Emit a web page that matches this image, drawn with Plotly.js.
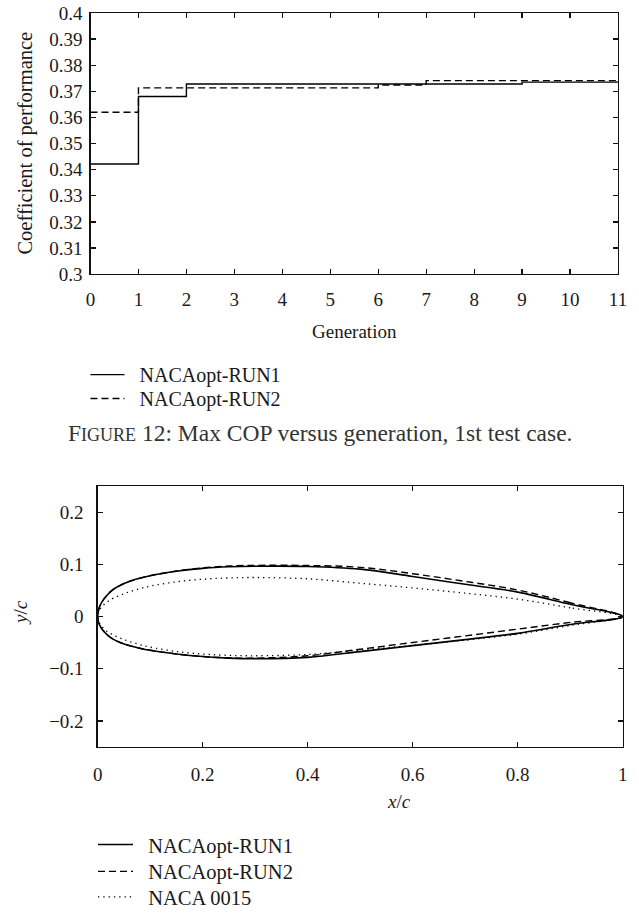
<!DOCTYPE html>
<html>
<head>
<meta charset="utf-8">
<script src="https://cdn.plot.ly/plotly-3.0.1.min.js"></script>
<style>html,body{margin:0;padding:0;background:#fff;}#chart{width:639px;height:917px;}</style>
</head>
<body>
<div id="chart"></div>
<script>
// ---------- Figure 12 data: max COP vs generation ----------
const generation = [0, 1, 2, 3, 4, 5, 6, 7, 8, 9, 10, 11];
const copRun1 = [0.3422, 0.3680, 0.3728, 0.3728, 0.3728, 0.3728, 0.3728, 0.3728, 0.3728, 0.3735, 0.3735, 0.3735];
const copRun2 = [0.3620, 0.3713, 0.3713, 0.3713, 0.3713, 0.3713, 0.3724, 0.3741, 0.3741, 0.3741, 0.3741, 0.3741];
const genTickVals = [0, 1, 2, 3, 4, 5, 6, 7, 8, 9, 10, 11];
const genTickText = ["0", "1", "2", "3", "4", "5", "6", "7", "8", "9", "10", "11"];
const copTickVals = [0.3, 0.31, 0.32, 0.33, 0.34, 0.35, 0.36, 0.37, 0.38, 0.39, 0.4];
const copTickText = ["0.3", "0.31", "0.32", "0.33", "0.34", "0.35", "0.36", "0.37", "0.38", "0.39", "0.4"];

// ---------- Airfoil profiles (x/c, y/c) ----------
// upper surface: trailing edge -> leading edge
const xUpper = [1.0, 0.9, 0.8, 0.7, 0.6, 0.5, 0.4, 0.3, 0.25, 0.2, 0.15, 0.1, 0.08, 0.06, 0.045, 0.03, 0.02, 0.012, 0.006, 0.002, 0];
// lower surface: leading edge -> trailing edge
const xLower = [0, 0.002, 0.006, 0.012, 0.02, 0.03, 0.045, 0.06, 0.08, 0.1, 0.15, 0.2, 0.25, 0.3, 0.4, 0.5, 0.6, 0.7, 0.8, 0.9, 1.0];

const run1Upper = [0, 0.0236, 0.047, 0.062, 0.077, 0.091, 0.0962, 0.0966, 0.0955, 0.0925, 0.087, 0.0785, 0.0735, 0.0675, 0.061, 0.0525, 0.0435, 0.034, 0.0243, 0.014, 0];
const run1Lower = [0, -0.012, -0.0205, -0.0285, -0.0365, -0.0435, -0.0505, -0.0555, -0.0605, -0.0645, -0.0715, -0.0765, -0.0795, -0.0805, -0.078, -0.067, -0.0555, -0.044, -0.032, -0.015, 0];
const run2Upper = [0, 0.0266, 0.051, 0.0675, 0.0823, 0.0945, 0.098, 0.0982, 0.097, 0.0935, 0.0875, 0.0785, 0.0735, 0.0675, 0.061, 0.0525, 0.0435, 0.034, 0.0243, 0.014, 0];
const run2Lower = [0, -0.012, -0.0205, -0.0285, -0.0365, -0.0435, -0.0505, -0.0555, -0.0605, -0.0645, -0.0715, -0.0765, -0.079, -0.0795, -0.075, -0.0625, -0.0495, -0.0368, -0.024, -0.011, 0];
const naca0015Upper = [0, 0.017, 0.0335, 0.045, 0.055, 0.064, 0.0725, 0.075, 0.0742, 0.0717, 0.0668, 0.0585, 0.0535, 0.0475, 0.042, 0.0355, 0.0295, 0.0232, 0.0167, 0.0098, 0];
const naca0015Lower = [0, -0.0098, -0.0167, -0.0232, -0.0295, -0.0355, -0.042, -0.0475, -0.0535, -0.0585, -0.0668, -0.0717, -0.0742, -0.075, -0.0725, -0.064, -0.055, -0.045, -0.0335, -0.017, 0];

const xcTickVals = [0, 0.2, 0.4, 0.6, 0.8, 1];
const xcTickText = ["0", "0.2", "0.4", "0.6", "0.8", "1"];
const ycTickVals = [-0.2, -0.1, 0, 0.1, 0.2];
const ycTickText = ["\u22120.2", "\u22120.1", "0", "0.1", "0.2"];

const labelRun1 = "NACAopt-RUN1";
const labelRun2 = "NACAopt-RUN2";
const labelNaca = "NACA 0015";

function loop(up, lo) { return up.concat(lo.slice(1)); }
const xLoop = loop(xUpper, xLower);

// ---------- Styling ----------
const FONT = "Liberation Serif, Times New Roman, serif";
const TXT = "#1a1a1a";
const W = 639, H = 917;
const px = v => v / W;          // pixel x -> paper
const py = v => (H - v) / H;    // pixel y -> paper
const PAD = "\u00a0\u00a0";

const axisCommon = {
  showline: true, linecolor: "#111", linewidth: 1.3, mirror: "ticks",
  ticks: "inside", ticklen: 5, tickwidth: 1.2, tickcolor: "#111",
  showgrid: false, zeroline: false, automargin: false,
  tickfont: { family: FONT, size: 19, color: TXT }
};

const traces = [
  { x: generation, y: copRun1, xaxis: "x", yaxis: "y", name: PAD + labelRun1, mode: "lines",
    line: { shape: "hv", color: "#000", width: 1.4 }, legend: "legend" },
  { x: generation, y: copRun2, xaxis: "x", yaxis: "y", name: PAD + labelRun2, mode: "lines",
    line: { shape: "hv", color: "#000", width: 1.4, dash: "7px,4px" }, legend: "legend2" },
  { x: xLoop, y: loop(run1Upper, run1Lower), xaxis: "x2", yaxis: "y2", name: PAD + labelRun1, mode: "lines",
    line: { shape: "spline", smoothing: 1, color: "#000", width: 1.6 }, legend: "legend3" },
  { x: xLoop, y: loop(run2Upper, run2Lower), xaxis: "x2", yaxis: "y2", name: PAD + labelRun2, mode: "lines",
    line: { shape: "spline", smoothing: 1, color: "#000", width: 1.4, dash: "7px,4px" }, legend: "legend4" },
  { x: xLoop, y: loop(naca0015Upper, naca0015Lower), xaxis: "x2", yaxis: "y2", name: PAD + labelNaca, mode: "lines",
    line: { shape: "spline", smoothing: 1, color: "#000", width: 1.3, dash: "1.3px,4px" }, legend: "legend5" }
];

function legendAt(leftPx, centerPx, size, iw) {
  const h = 1.3 * size + 3;
  return {
    x: px(leftPx), y: py(centerPx - 5 - h / 2), xanchor: "left", yanchor: "top",
    bgcolor: "rgba(0,0,0,0)", borderwidth: 0, itemwidth: iw,
    font: { family: FONT, size: size, color: TXT }
  };
}

const ann = (text, x, y, size, extra) => Object.assign({
  text: text, xref: "paper", yref: "paper", x: px(x), y: py(y),
  xanchor: "center", yanchor: "middle", showarrow: false,
  font: { family: FONT, size: size, color: TXT }
}, extra || {});

const layout = {
  width: W, height: H, autosize: false,
  margin: { l: 0, r: 0, t: 0, b: 0 },
  paper_bgcolor: "#fff", plot_bgcolor: "#fff",
  showlegend: true,
  xaxis: Object.assign({}, axisCommon, {
    domain: [px(90.5), px(618)], range: [0, 11], anchor: "y",
    tickvals: genTickVals, ticktext: genTickText, ticklabelstandoff: 8
  }),
  yaxis: Object.assign({}, axisCommon, {
    domain: [py(276), py(13)], range: [0.3, 0.4], anchor: "x",
    tickvals: copTickVals, ticktext: copTickText, ticklabelstandoff: 3
  }),
  xaxis2: Object.assign({}, axisCommon, {
    domain: [px(97.7), px(622.7)], range: [0, 1], anchor: "y2",
    tickvals: xcTickVals, ticktext: xcTickText, ticklabelstandoff: 10
  }),
  yaxis2: Object.assign({}, axisCommon, {
    domain: [py(752), py(489.4)], range: [-0.25, 0.25], anchor: "x2",
    tickvals: ycTickVals, ticktext: ycTickText, ticklabelstandoff: 9
  }),
  legend: legendAt(85.5, 377, 20, 34),
  legend2: legendAt(85.5, 401, 20, 34),
  legend3: legendAt(93, 850, 20.5, 35),
  legend4: legendAt(93, 877, 20.5, 35),
  legend5: legendAt(93, 903, 20.5, 35),
  annotations: [
    ann("Coefficient of performance", 26, 144.5, 20.5, { textangle: -90 }),
    ann("Generation", 354, 334, 19),
    ann("F<span style=\"font-size:18px\">IGURE</span> 12: Max COP versus generation, 1st test case.", 320, 436, 23.5,
        { font: { family: FONT, size: 23.5, color: "#333" } }),
    ann("<i>x</i>/<i>c</i>", 399, 807, 19),
    ann("<i>y</i>/<i>c</i>", 21, 617, 19, { textangle: -90 })
  ]
};

Plotly.newPlot("chart", traces, layout, { staticPlot: true, displayModeBar: false });
</script>
</body>
</html>
